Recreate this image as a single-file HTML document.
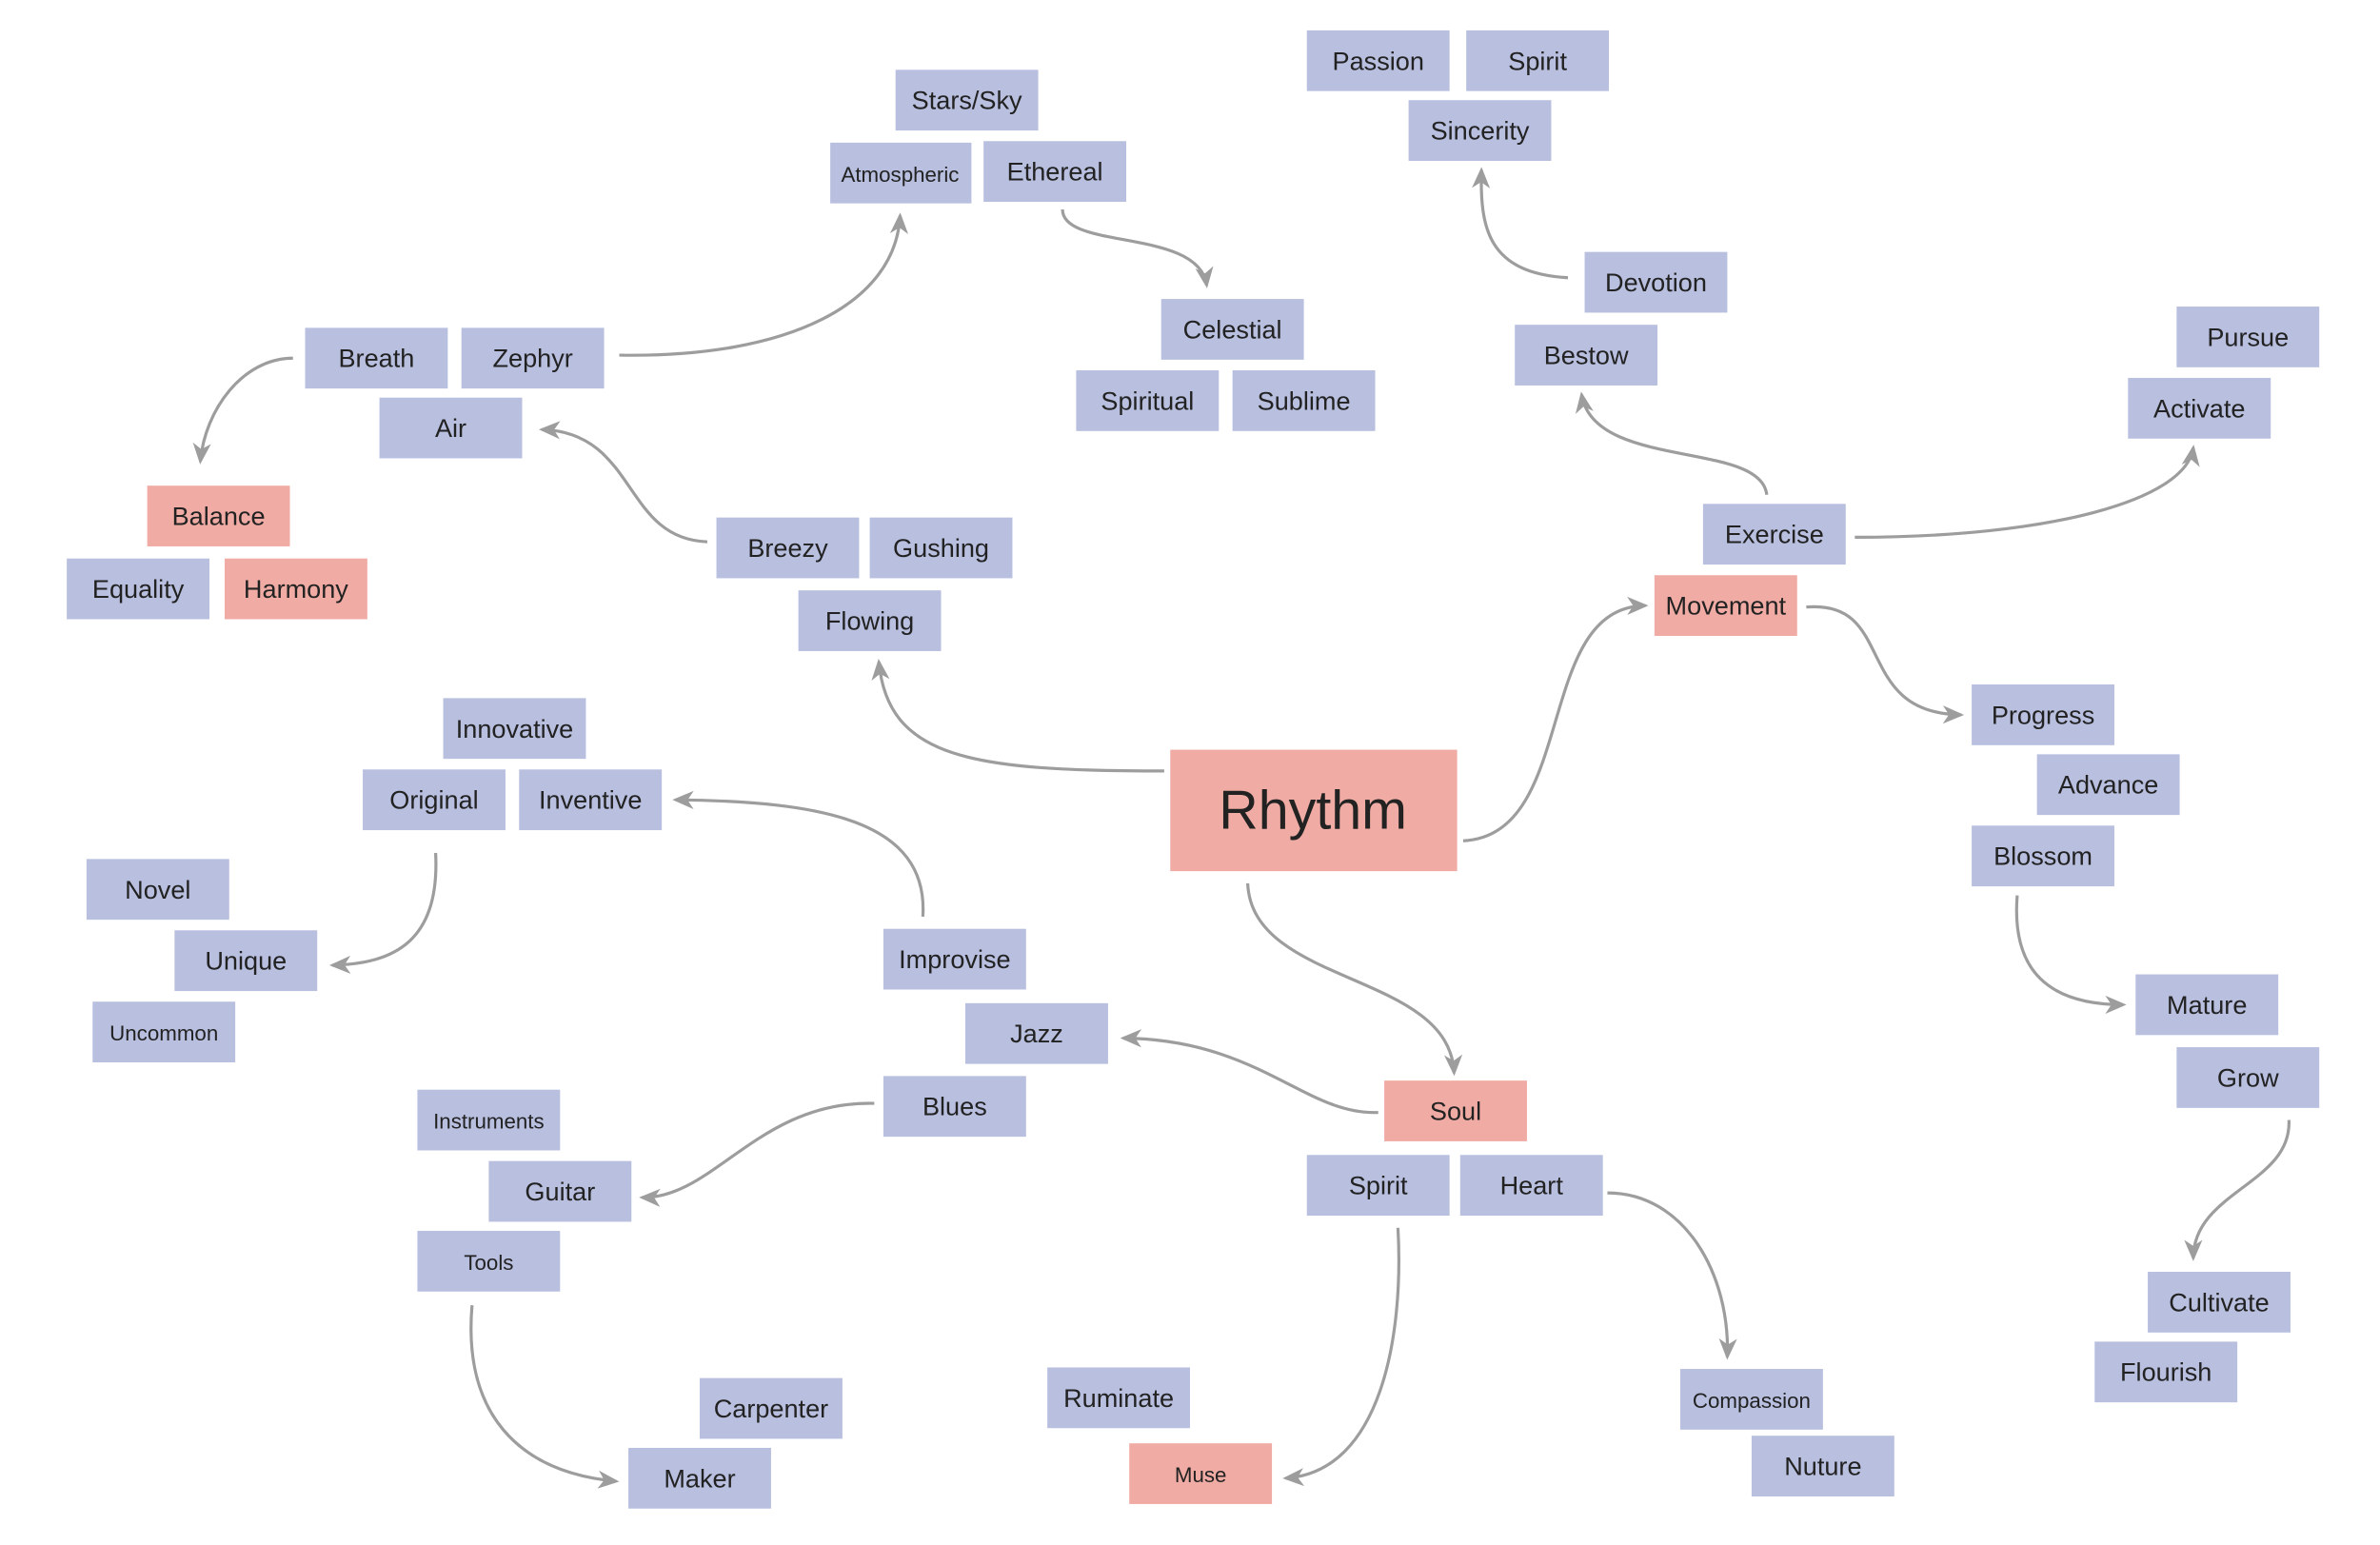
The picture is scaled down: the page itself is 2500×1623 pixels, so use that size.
<!DOCTYPE html>
<html><head><meta charset="utf-8"><style>
html,body{margin:0;padding:0;background:#fff;}
svg{display:block;}
text{font-family:"Liberation Sans",sans-serif;fill:#222;text-anchor:middle;dominant-baseline:central;}
.b{fill:#b8bfdf;} .p{fill:#f0aca4;}
path.c{fill:none;stroke:#9d9d9d;stroke-width:2;marker-end:url(#ah);}
</style></head><body>
<svg width="2500" height="1623" viewBox="0 0 1568 1018" preserveAspectRatio="none" xmlns="http://www.w3.org/2000/svg">
<defs><marker id="ah" viewBox="0 0 14 12" refX="12" refY="6" markerWidth="7" markerHeight="6" markerUnits="strokeWidth" orient="auto"><path d="M0,0 L14,6 L0,12 L4,6 Z" fill="#9d9d9d"/></marker></defs>
<rect width="1568" height="1018" fill="#fff"/>
<path class="c" d="M408,234 C520,236 590,200 593,142"/>
<path class="c" d="M700,138 C700,165 790,150 795,188"/>
<path class="c" d="M193,236 C160,236 135,270 132,304"/>
<path class="c" d="M466,357 C410,355 420,285 357,283"/>
<path class="c" d="M767,508 C640,508 585,500 579,436"/>
<path class="c" d="M964,554 C1040,550 1010,400 1084,399"/>
<path class="c" d="M1190,400 C1250,395 1220,470 1292,471"/>
<path class="c" d="M1164,326 C1160,290 1050,310 1042,260"/>
<path class="c" d="M1222,354 C1350,354 1440,330 1445,295"/>
<path class="c" d="M1033,183 C980,180 975,150 976,112"/>
<path class="c" d="M1329,590 C1325,640 1350,662 1399,662"/>
<path class="c" d="M1508,738 C1510,780 1445,785 1445,829"/>
<path class="c" d="M822,582 C825,650 955,640 958,707"/>
<path class="c" d="M908,733 C860,735 830,685 740,684"/>
<path class="c" d="M608,604 C612,540 540,528 445,527"/>
<path class="c" d="M287,562 C290,620 260,635 219,636"/>
<path class="c" d="M576,727 C500,725 470,790 423,789"/>
<path class="c" d="M311,860 C305,930 340,970 406,976"/>
<path class="c" d="M921,809 C925,880 910,970 847,974"/>
<path class="c" d="M1059,786 C1110,786 1140,840 1138,894"/>
<g font-size="17">
<rect class="b" x="590" y="46" width="94" height="40"/><text x="637" y="66">Stars/Sky</text>
<rect class="b" x="547" y="94" width="93" height="40"/><text x="593" y="115" font-size="14">Atmospheric</text>
<rect class="b" x="648" y="93" width="94" height="40"/><text x="695" y="113">Ethereal</text>
<rect class="b" x="765" y="197" width="94" height="40"/><text x="812" y="217">Celestial</text>
<rect class="b" x="709" y="244" width="94" height="40"/><text x="756" y="264">Spiritual</text>
<rect class="b" x="812" y="244" width="94" height="40"/><text x="859" y="264">Sublime</text>
<rect class="b" x="201" y="216" width="94" height="40"/><text x="248" y="236">Breath</text>
<rect class="b" x="304" y="216" width="94" height="40"/><text x="351" y="236">Zephyr</text>
<rect class="b" x="250" y="262" width="94" height="40"/><text x="297" y="282">Air</text>
<rect class="p" x="97" y="320" width="94" height="40"/><text x="144" y="340">Balance</text>
<rect class="b" x="44" y="368" width="94" height="40"/><text x="91" y="388">Equality</text>
<rect class="p" x="148" y="368" width="94" height="40"/><text x="195" y="388">Harmony</text>
<rect class="b" x="472" y="341" width="94" height="40"/><text x="519" y="361">Breezy</text>
<rect class="b" x="573" y="341" width="94" height="40"/><text x="620" y="361">Gushing</text>
<rect class="b" x="526" y="389" width="94" height="40"/><text x="573" y="409">Flowing</text>
<rect class="b" x="861" y="20" width="94" height="40"/><text x="908" y="40">Passion</text>
<rect class="b" x="966" y="20" width="94" height="40"/><text x="1013" y="40">Spirit</text>
<rect class="b" x="928" y="66" width="94" height="40"/><text x="975" y="86">Sincerity</text>
<rect class="b" x="1044" y="166" width="94" height="40"/><text x="1091" y="186">Devotion</text>
<rect class="b" x="998" y="214" width="94" height="40"/><text x="1045" y="234">Bestow</text>
<rect class="b" x="1434" y="202" width="94" height="40"/><text x="1481" y="222">Pursue</text>
<rect class="b" x="1402" y="249" width="94" height="40"/><text x="1449" y="269">Activate</text>
<rect class="b" x="1122" y="332" width="94" height="40"/><text x="1169" y="352">Exercise</text>
<rect class="p" x="1090" y="379" width="94" height="40"/><text x="1137" y="399">Movement</text>
<rect class="b" x="1299" y="451" width="94" height="40"/><text x="1346" y="471">Progress</text>
<rect class="b" x="1342" y="497" width="94" height="40"/><text x="1389" y="517">Advance</text>
<rect class="b" x="1299" y="544" width="94" height="40"/><text x="1346" y="564">Blossom</text>
<rect class="b" x="1407" y="642" width="94" height="40"/><text x="1454" y="662">Mature</text>
<rect class="b" x="1434" y="690" width="94" height="40"/><text x="1481" y="710">Grow</text>
<rect class="b" x="1415" y="838" width="94" height="40"/><text x="1462" y="858">Cultivate</text>
<rect class="b" x="1380" y="884" width="94" height="40"/><text x="1427" y="904">Flourish</text>
<rect class="p" x="771" y="494" width="189" height="80"/><text x="865" y="534" font-size="36">Rhythm</text>
<rect class="b" x="292" y="460" width="94" height="40"/><text x="339" y="480">Innovative</text>
<rect class="b" x="239" y="507" width="94" height="40"/><text x="286" y="527">Original</text>
<rect class="b" x="342" y="507" width="94" height="40"/><text x="389" y="527">Inventive</text>
<rect class="b" x="57" y="566" width="94" height="40"/><text x="104" y="586">Novel</text>
<rect class="b" x="115" y="613" width="94" height="40"/><text x="162" y="633">Unique</text>
<rect class="b" x="61" y="660" width="94" height="40"/><text x="108" y="681" font-size="14">Uncommon</text>
<rect class="b" x="582" y="612" width="94" height="40"/><text x="629" y="632">Improvise</text>
<rect class="b" x="636" y="661" width="94" height="40"/><text x="683" y="681">Jazz</text>
<rect class="b" x="582" y="709" width="94" height="40"/><text x="629" y="729">Blues</text>
<rect class="b" x="275" y="718" width="94" height="40"/><text x="322" y="739" font-size="14">Instruments</text>
<rect class="b" x="322" y="765" width="94" height="40"/><text x="369" y="785">Guitar</text>
<rect class="b" x="275" y="811" width="94" height="40"/><text x="322" y="832" font-size="14">Tools</text>
<rect class="b" x="461" y="908" width="94" height="40"/><text x="508" y="928">Carpenter</text>
<rect class="b" x="414" y="954" width="94" height="40"/><text x="461" y="974">Maker</text>
<rect class="p" x="912" y="712" width="94" height="40"/><text x="959" y="732">Soul</text>
<rect class="b" x="861" y="761" width="94" height="40"/><text x="908" y="781">Spirit</text>
<rect class="b" x="962" y="761" width="94" height="40"/><text x="1009" y="781">Heart</text>
<rect class="b" x="690" y="901" width="94" height="40"/><text x="737" y="921">Ruminate</text>
<rect class="p" x="744" y="951" width="94" height="40"/><text x="791" y="972" font-size="14">Muse</text>
<rect class="b" x="1107" y="902" width="94" height="40"/><text x="1154" y="923" font-size="14">Compassion</text>
<rect class="b" x="1154" y="946" width="94" height="40"/><text x="1201" y="966">Nuture</text>
</g>
</svg>
</body></html>
